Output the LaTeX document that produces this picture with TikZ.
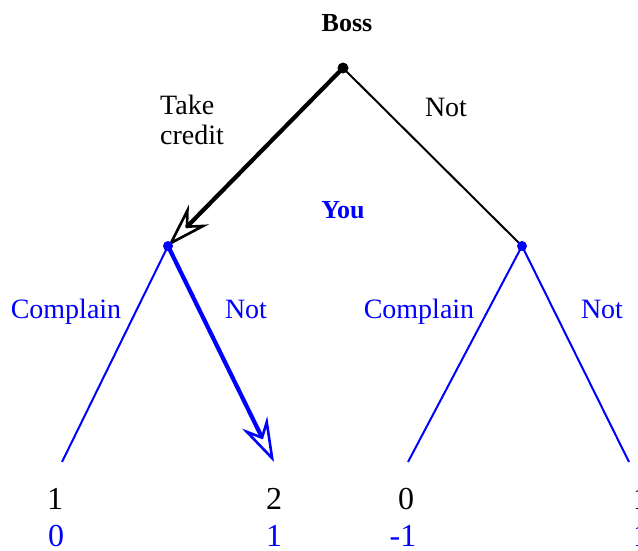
\documentclass[tikz,border=0pt]{standalone}
\usepackage{fontspec}
\setmainfont{Liberation Serif}
\usetikzlibrary{arrows.meta}
\definecolor{pblue}{RGB}{0,0,255}
\begin{document}
\begin{tikzpicture}[x=1pt,y=-1pt,
  lbl/.style={font=\fontsize{28}{30}\selectfont, inner sep=0pt, anchor=base},
  blbl/.style={lbl, text=pblue},
  player/.style={font=\fontsize{26}{28}\selectfont\bfseries, inner sep=0pt, anchor=base},
  pay/.style={font=\fontsize{32}{34}\selectfont, inner sep=0pt, anchor=base},
  bpay/.style={pay, text=pblue},
  thinb/.style={line width=2pt},
  thickb/.style={line width=4.2pt},
  openarr/.style={-{Stealth[open, length=44pt, width=28pt, inset=15pt, line width=2.6pt]}},
  dot/.style={circle, fill, inner sep=0pt, minimum size=10pt}
]
\useasboundingbox (0,0) rectangle (638,551);
% positions
\coordinate (boss) at (343,68);
\coordinate (you1) at (168,246);
\coordinate (you2) at (522,246);
\coordinate (t1) at (62,462);
\coordinate (t2) at (274,462);
\coordinate (t3) at (408,462);
\coordinate (t4) at (629,462);
% branches
\draw[thickb, openarr, line cap=round] (boss) -- (you1);
\draw[thinb] (boss) -- (you2);
\draw[thinb, pblue] (you1) -- (t1);
\draw[thickb, pblue, openarr] (you1) -- (t2);
\draw[thinb, pblue] (you2) -- (t3);
\draw[thinb, pblue] (you2) -- (t4);
% decision nodes
\node[dot, minimum size=11pt] (bossdot) at (boss) {};
\node[dot, pblue] (you1dot) at (you1) {};
\node[dot, pblue] (you2dot) at (you2) {};
% player labels
\node[player] (bosslbl) at (347,32) {Boss};
\node[player, text=pblue] (youlbl) at (343,218) {You};
% action labels
\node[lbl, align=left, anchor=north west] (take) at (160,95) {Take\\credit};
\node[lbl] (not0) at (446,117) {Not};
\node[blbl] (c1) at (66,318) {Complain};
\node[blbl] (n1) at (246,318) {Not};
\node[blbl] (c2) at (419,318) {Complain};
\node[blbl] (n2) at (602,318) {Not};
% payoffs
\node[pay] (p1a) at (55,509) {1};
\node[bpay] (p1b) at (56,546) {0};
\node[pay] (p2a) at (274,509) {2};
\node[bpay] (p2b) at (274,546) {1};
\node[pay] (p3a) at (406,509) {0};
\node[bpay] (p3b) at (403,546) {-1};
\node[pay] (p4a) at (641,509) {1};
\node[bpay] (p4b) at (641,546) {1};
\end{tikzpicture}
\end{document}
